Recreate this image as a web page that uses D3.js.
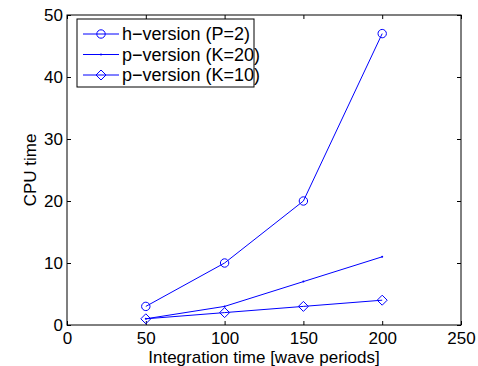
<!DOCTYPE html>
<html>
<head>
<meta charset="utf-8">
<script src="https://cdn.jsdelivr.net/npm/d3@7"></script>
<style>
  body { margin: 0; background: #fff; }
  text { font-family: "Liberation Sans", Arial, sans-serif; }
</style>
</head>
<body>
<div id="chart"></div>
<script>
// data
var xVals = [50, 100, 150, 200];
var hVersion = [3, 10, 20, 47];
var pVersion20 = [1, 3, 7, 11];
var pVersion10 = [1, 2, 3, 4];
var seriesNames = ["h\u2212version (P=2)", "p\u2212version (K=20)", "p\u2212version (K=10)"];
var xTicks = [0, 50, 100, 150, 200, 250];
var yTicks = [0, 10, 20, 30, 40, 50];

var W = 478, H = 366;
var margin = {top: 15, right: 17, bottom: 41, left: 67},
    width = W - margin.left - margin.right,
    height = H - margin.top - margin.bottom;
var fs = "17px";

var svg = d3.select("#chart").append("svg")
    .attr("width", W).attr("height", H)
  .append("g")
    .attr("transform", "translate(" + margin.left + "," + margin.top + ")");

var x = d3.scaleLinear().domain([0, 250]).range([0, width]);
var y = d3.scaleLinear().domain([0, 50]).range([height, 0]);

var tl = 4;
// axes, ticks pointing inwards like matlab
svg.append("g").attr("transform", "translate(0," + height + ")")
  .call(d3.axisBottom(x).tickValues(xTicks).tickSize(-tl).tickSizeOuter(0))
  .call(g => g.selectAll("text").style("font-size", fs).attr("dy", "0.71em").attr("y", 7));
svg.append("g").attr("transform", "translate(0,0)")
  .call(d3.axisTop(x).tickValues(xTicks).tickSize(-tl).tickFormat("").tickSizeOuter(0));
svg.append("g")
  .call(d3.axisLeft(y).tickValues(yTicks).tickSize(-tl).tickSizeOuter(0))
  .call(g => g.selectAll("text").style("font-size", fs).attr("x", -4));
svg.append("g").attr("transform", "translate(" + width + ",0)")
  .call(d3.axisRight(y).tickValues(yTicks).tickSize(-tl).tickFormat("").tickSizeOuter(0));
svg.selectAll(".domain").remove();
svg.selectAll(".tick line").attr("stroke", "#000");
svg.selectAll(".tick text").attr("fill", "#000");
svg.append("rect").attr("width", width).attr("height", height)
  .attr("fill", "none").attr("stroke", "#000").attr("stroke-width", 1);

var blue = "#0000ff";
var line = d3.line().x((d, i) => x(xVals[i])).y(d => y(d));

function drawMarker(g, type, cx, cy) {
  if (type === "circle") {
    g.append("circle").attr("cx", cx).attr("cy", cy).attr("r", 4.2)
      .attr("fill", "none").attr("stroke", blue).attr("stroke-width", 1);
  } else if (type === "dot") {
    g.append("circle").attr("cx", cx).attr("cy", cy).attr("r", 1)
      .attr("fill", blue);
  } else {
    var s = 5;
    g.append("path").attr("d", "M" + cx + "," + (cy - s) + "L" + (cx + s) + "," + cy +
      "L" + cx + "," + (cy + s) + "L" + (cx - s) + "," + cy + "Z")
      .attr("fill", "none").attr("stroke", blue).attr("stroke-width", 1);
  }
}

var series = [
  {vals: hVersion, marker: "circle"},
  {vals: pVersion20, marker: "dot"},
  {vals: pVersion10, marker: "diamond"}
];

series.forEach(function(s) {
  var g = svg.append("g");
  g.append("path").datum(s.vals).attr("d", line)
    .attr("fill", "none").attr("stroke", blue).attr("stroke-width", 1);
  s.vals.forEach(function(v, i) { drawMarker(g, s.marker, x(xVals[i]), y(v)); });
});

// legend
var lg = svg.append("g").attr("transform", "translate(10,4)");
lg.append("rect").attr("width", 177).attr("height", 68)
  .attr("fill", "#fff").attr("stroke", "#000").attr("stroke-width", 1);
seriesNames.forEach(function(name, i) {
  var ly = 15 + i * 20.5;
  lg.append("line").attr("x1", 6).attr("x2", 42).attr("y1", ly).attr("y2", ly)
    .attr("stroke", blue).attr("stroke-width", 1);
  drawMarker(lg, series[i].marker, 24, ly);
  lg.append("text").attr("x", 45).attr("y", ly).attr("dy", "0.35em")
    .style("font-size", "18px").text(name);
});

// labels
svg.append("text").attr("x", width / 2).attr("y", height + 38)
  .attr("text-anchor", "middle").style("font-size", fs)
  .text("Integration time [wave periods]");
svg.append("text").attr("transform", "translate(-31," + (height / 2) + ") rotate(-90)")
  .attr("text-anchor", "middle").style("font-size", fs)
  .text("CPU time");
</script>
</body>
</html>
